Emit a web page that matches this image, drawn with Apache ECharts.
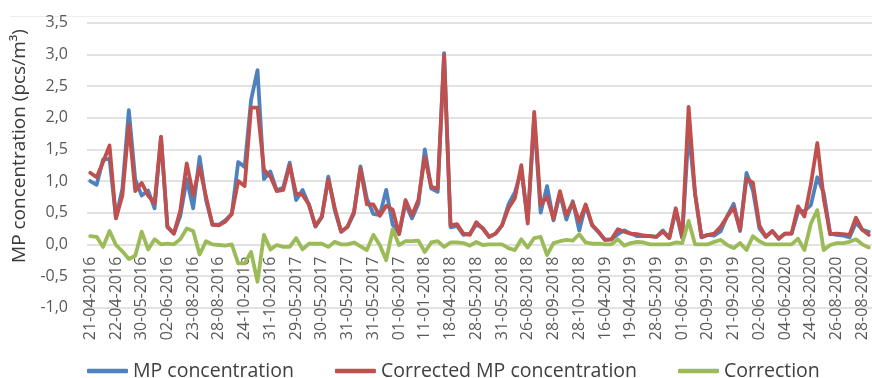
<!DOCTYPE html>
<html>
<head>
<meta charset="utf-8">
<script src="https://cdn.jsdelivr.net/npm/echarts@6/dist/echarts.min.js"></script>
<style>
html,body{margin:0;padding:0;background:#fff;}
#chart{width:872px;height:378px;}
</style>
</head>
<body>
<div id="chart"></div>
<script>
// Tick labels shown on the category axis (every 4th sample)
const tickLabels = [
  '21-04-2016','22-04-2016','30-05-2016','02-06-2016','23-08-2016','28-08-2016',
  '24-10-2016','31-10-2016','29-05-2017','30-05-2017','31-05-2017','31-05-2017',
  '01-06-2017','11-01-2018','18-04-2018','28-05-2018','31-05-2018','26-08-2018',
  '28-09-2018','28-10-2018','16-04-2019','19-04-2019','28-05-2019','01-06-2019',
  '20-09-2019','21-09-2019','02-06-2020','04-06-2020','24-08-2020','26-08-2020',
  '28-08-2020'
];
const labelEvery = 4;
const sampleCount = 122;

const mpConcentration = [
  1.00,0.94,1.34,1.35,0.42,0.88,2.12,1.02,0.77,0.85,0.57,1.69,0.27,0.17,0.45,1.03,
  0.57,1.38,0.70,0.31,0.31,0.38,0.48,1.30,1.22,2.28,2.75,1.03,1.15,0.85,0.90,1.29,
  0.70,0.86,0.62,0.28,0.43,1.07,0.54,0.20,0.28,0.49,1.23,0.72,0.48,0.46,0.86,0.31,
  0.17,0.65,0.41,0.64,1.50,0.88,0.83,3.02,0.27,0.29,0.15,0.17,0.31,0.26,0.12,0.17,
  0.30,0.63,0.82,1.17,0.38,1.99,0.50,0.92,0.38,0.80,0.39,0.68,0.22,0.62,0.30,0.19,
  0.07,0.08,0.16,0.22,0.17,0.13,0.13,0.13,0.12,0.22,0.10,0.53,0.10,1.80,0.80,0.11,
  0.15,0.14,0.21,0.45,0.64,0.21,1.13,0.85,0.25,0.12,0.21,0.09,0.17,0.17,0.51,0.53,
  0.62,1.06,0.81,0.17,0.15,0.14,0.11,0.34,0.23,0.20
];
const correctedMp = [
  1.13,1.06,1.30,1.56,0.41,0.77,1.89,0.84,0.97,0.77,0.65,1.70,0.28,0.17,0.53,1.28,
  0.78,1.22,0.75,0.31,0.30,0.36,0.48,1.00,0.92,2.16,2.16,1.18,1.07,0.84,0.86,1.25,
  0.80,0.78,0.63,0.29,0.44,1.03,0.58,0.20,0.28,0.52,1.20,0.63,0.63,0.45,0.61,0.55,
  0.16,0.70,0.46,0.70,1.38,0.91,0.88,2.99,0.30,0.32,0.17,0.15,0.35,0.25,0.12,0.17,
  0.30,0.57,0.73,1.25,0.33,2.09,0.62,0.75,0.40,0.84,0.46,0.66,0.36,0.63,0.31,0.20,
  0.07,0.08,0.24,0.20,0.17,0.16,0.14,0.13,0.12,0.20,0.10,0.57,0.12,2.17,0.80,0.12,
  0.15,0.17,0.28,0.44,0.58,0.23,1.04,0.97,0.30,0.12,0.21,0.09,0.17,0.17,0.60,0.44,
  0.95,1.60,0.72,0.16,0.17,0.16,0.15,0.42,0.23,0.15
];
const correction = [
  0.13,0.12,-0.04,0.21,-0.01,-0.11,-0.23,-0.18,0.20,-0.08,0.08,0.00,0.01,0.00,0.08,0.25,
  0.21,-0.16,0.05,0.00,-0.01,-0.02,0.00,-0.30,-0.30,-0.12,-0.59,0.15,-0.08,-0.01,-0.04,-0.04,
  0.10,-0.08,0.01,0.01,0.01,-0.04,0.04,0.00,0.00,0.03,-0.03,-0.09,0.15,-0.01,-0.25,0.24,
  -0.01,0.05,0.05,0.06,-0.12,0.03,0.05,-0.04,0.03,0.03,0.02,-0.02,0.04,-0.01,0.00,0.00,
  0.00,-0.06,-0.09,0.08,-0.05,0.10,0.12,-0.17,0.02,0.05,0.07,0.06,0.16,0.03,0.01,0.01,
  0.00,0.00,0.08,-0.02,0.02,0.04,0.03,0.00,0.00,0.00,0.00,0.03,0.02,0.37,0.00,0.00,
  0.00,0.04,0.07,-0.01,-0.06,0.02,-0.09,0.13,0.05,0.00,0.00,0.00,0.00,0.00,0.09,-0.09,
  0.33,0.54,-0.09,-0.01,0.02,0.02,0.04,0.08,0.00,-0.05
];

const seriesNames = ['MP concentration','Corrected MP concentration','Correction'];
const seriesColors = ['#4F81BD','#C0504D','#9BBB59'];

const categories = [];
for (let i = 0; i < sampleCount; i++) {
  categories.push(i % labelEvery === 0 ? (tickLabels[i / labelEvery] || '') : '');
}

const FONT = "'Open Sans', 'Noto Sans', sans-serif";
const chart = echarts.init(document.getElementById('chart'), null, {renderer: 'canvas'});
const values = [mpConcentration, correctedMp, correction];

chart.setOption({
  animation: false,
  backgroundColor: '#ffffff',
  textStyle: {fontFamily: FONT},
  grid: {left: 87, top: 22.7, width: 793, height: 285, containLabel: false},
  legend: {
    left: 82, top: 354,
    itemWidth: 41, itemHeight: 4.5, itemGap: 41,
    icon: 'roundRect',
    textStyle: {fontFamily: FONT, fontSize: 19.5, color: '#404040', lineHeight: 24},
    data: seriesNames
  },
  graphic: [
    {type: 'text', x: 19.5, y: 146, rotation: Math.PI / 2,
     style: {text: 'MP concentration (pcs/m³)', fontFamily: FONT, fontSize: 19,
             fill: '#3a3a3a', align: 'center', verticalAlign: 'middle'}},
    {type: 'line', shape: {x1: 10, y1: 16.5, x2: 872, y2: 16.5},
     style: {stroke: '#ececec', lineWidth: 1}, silent: true}
  ],
  xAxis: {
    type: 'category',
    data: categories,
    boundaryGap: true,
    axisLine: {show: false, onZero: false},
    axisTick: {show: false},
    axisLabel: {interval: labelEvery - 1, rotate: 90, margin: -51, fontSize: 16,
                color: '#595959', fontFamily: FONT},
    splitLine: {show: false}
  },
  yAxis: {
    type: 'value',
    min: -1, max: 3.5, interval: 0.5,
    axisLine: {show: false},
    axisTick: {show: false},
    axisLabel: {margin: 19, fontSize: 16, color: '#595959', fontFamily: FONT,
                formatter: v => v.toFixed(1).replace('.', ',')},
    splitLine: {lineStyle: {color: '#d9d9d9', width: 1.5}}
  },
  series: values.map((d, k) => ({
    name: seriesNames[k],
    type: 'line',
    data: d,
    symbol: 'none',
    smooth: false,
    color: seriesColors[k],
    lineStyle: {width: 3.8, color: seriesColors[k], join: 'round', cap: 'round'},
    itemStyle: {color: seriesColors[k]},
    z: 2 + k
  }))
});
</script>
</body>
</html>
